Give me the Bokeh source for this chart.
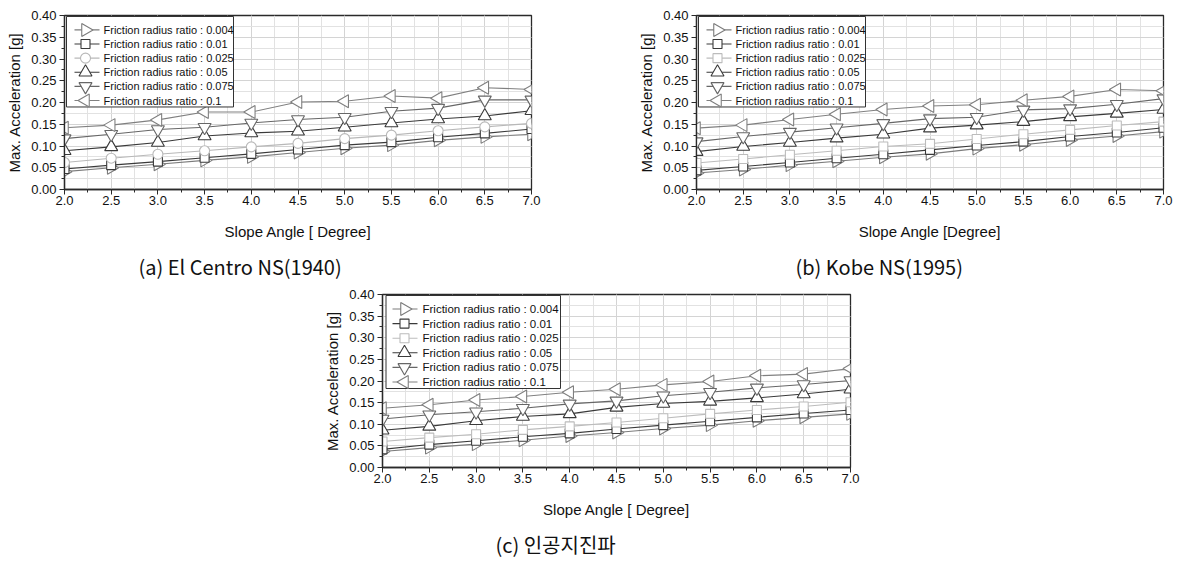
import math
from bokeh.plotting import figure
from bokeh.models import (Title, Range1d, SingleIntervalTicker, NumeralTickFormatter, Spacer)
from bokeh.core.properties import value
from bokeh.layouts import column, row
from bokeh.embed import file_html
from bokeh.resources import INLINE

slope = [2.0, 2.5, 3.0, 3.5, 4.0, 4.5, 5.0, 5.5, 6.0, 6.5, 7.0]
ratios = ["0.004", "0.01", "0.025", "0.05", "0.075", "0.1"]

# (a) El Centro NS(1940)
a_0004 = [0.041, 0.050, 0.058, 0.067, 0.075, 0.085, 0.095, 0.102, 0.113, 0.121, 0.127]
a_001 = [0.047, 0.056, 0.064, 0.073, 0.082, 0.092, 0.102, 0.109, 0.120, 0.129, 0.139]
a_0025 = [0.062, 0.072, 0.081, 0.089, 0.098, 0.106, 0.117, 0.125, 0.135, 0.144, 0.152]
a_005 = [0.089, 0.098, 0.108, 0.123, 0.130, 0.134, 0.143, 0.153, 0.162, 0.169, 0.181]
a_0075 = [0.117, 0.127, 0.138, 0.143, 0.153, 0.161, 0.166, 0.180, 0.187, 0.206, 0.206]
a_01 = [0.142, 0.148, 0.160, 0.178, 0.178, 0.201, 0.203, 0.215, 0.210, 0.234, 0.230]

# (b) Kobe NS(1995)
b_0004 = [0.038, 0.046, 0.056, 0.065, 0.074, 0.082, 0.094, 0.103, 0.114, 0.123, 0.133]
b_001 = [0.044, 0.053, 0.062, 0.072, 0.081, 0.091, 0.101, 0.110, 0.122, 0.131, 0.142]
b_0025 = [0.061, 0.070, 0.080, 0.089, 0.099, 0.105, 0.116, 0.127, 0.137, 0.147, 0.156]
b_005 = [0.087, 0.099, 0.108, 0.118, 0.127, 0.141, 0.148, 0.156, 0.167, 0.175, 0.184]
b_0075 = [0.110, 0.122, 0.132, 0.142, 0.152, 0.163, 0.166, 0.183, 0.186, 0.196, 0.209]
b_01 = [0.141, 0.148, 0.161, 0.173, 0.184, 0.192, 0.195, 0.205, 0.214, 0.230, 0.227]

# (c) artificial earthquake
c_0004 = [0.037, 0.046, 0.054, 0.063, 0.073, 0.081, 0.090, 0.098, 0.108, 0.116, 0.124]
c_001 = [0.042, 0.053, 0.062, 0.071, 0.079, 0.089, 0.098, 0.107, 0.116, 0.125, 0.133]
c_0025 = [0.060, 0.069, 0.077, 0.087, 0.095, 0.104, 0.114, 0.124, 0.133, 0.141, 0.151]
c_005 = [0.086, 0.095, 0.108, 0.118, 0.124, 0.139, 0.148, 0.153, 0.161, 0.170, 0.181]
c_0075 = [0.112, 0.122, 0.129, 0.137, 0.147, 0.154, 0.166, 0.174, 0.184, 0.192, 0.201]
c_01 = [0.137, 0.145, 0.156, 0.164, 0.174, 0.181, 0.191, 0.199, 0.212, 0.216, 0.229]

x_label_a = "Slope Angle [ Degree]"
x_label_b = "Slope Angle [Degree]"
y_label = "Max. Acceleration [g]"
captions = ["(a) El Centro NS(1940)", "(b) Kobe NS(1995)", "(c) 인공지진파"]
legend_labels = ["Friction radius ratio : " + r for r in ratios]

FONT = "Liberation Sans"
CAP_FONT = "Noto Sans CJK KR"
X0, X1, Y0, Y1 = 2.0, 7.0, 0.0, 0.40

# marker style per series: (marker, angle, size, color)
styles_circle = [
    ("triangle", -math.pi / 2, 13, "#7c7c7c"),
    ("square", 0.0, 9, "#3a3a3a"),
    ("circle", 0.0, 10, "#b8b8b8"),
    ("triangle", 0.0, 13, "#3a3a3a"),
    ("inverted_triangle", 0.0, 13, "#676767"),
    ("triangle", math.pi / 2, 13, "#808080"),
]
styles_square = list(styles_circle)
styles_square[2] = ("square", 0.0, 9, "#bcbcbc")


def make_panel(series, styles, xlabel, caption, left_border, width, height,
               top_border, bottom_border, right_border, cap_offset, cap_standoff, leg):
    frame_w = width - left_border - right_border
    frame_h = height - top_border - bottom_border
    dx = (X1 - X0) / frame_w
    dy = (Y1 - Y0) / frame_h

    p = figure(width=width, height=height, output_backend="svg", toolbar_location=None,
               x_range=Range1d(X0, X1), y_range=Range1d(Y0, Y1),
               min_border_left=left_border, min_border_right=right_border,
               min_border_top=top_border, min_border_bottom=bottom_border)
    p.outline_line_color = "#2a2a2a"
    p.outline_line_width = 1.3
    p.background_fill_color = "white"
    p.border_fill_color = "white"

    p.xaxis.ticker = SingleIntervalTicker(interval=0.5, num_minor_ticks=2)
    p.yaxis.ticker = SingleIntervalTicker(interval=0.05, num_minor_ticks=2)
    p.xaxis.formatter = NumeralTickFormatter(format="0.0")
    p.yaxis.formatter = NumeralTickFormatter(format="0.00")
    for ax in (p.xaxis[0], p.yaxis[0]):
        ax.axis_line_color = "#2a2a2a"
        ax.axis_line_width = 1.3
        ax.major_tick_in = 0
        ax.major_tick_out = 5
        ax.minor_tick_in = 0
        ax.minor_tick_out = 3
        ax.major_tick_line_color = "#2a2a2a"
        ax.minor_tick_line_color = "#2a2a2a"
        ax.major_label_text_font = FONT
        ax.major_label_text_font_size = "13px"
        ax.major_label_text_color = "#111111"
        ax.axis_label_text_font = FONT
        ax.axis_label_text_font_size = "15px"
        ax.axis_label_text_font_style = "normal"
        ax.axis_label_text_color = "#111111"
    p.xaxis.axis_label = xlabel
    p.yaxis.axis_label = y_label
    p.xaxis.major_label_standoff = 1
    p.xaxis.axis_label_standoff = 15
    p.yaxis.major_label_standoff = 3
    p.yaxis.axis_label_standoff = 5

    for g in (p.xgrid[0], p.ygrid[0]):
        g.grid_line_color = "#d4d4d4"
        g.grid_line_width = 1
        g.minor_grid_line_color = "#e2e2e2"
        g.minor_grid_line_width = 1

    for ys, (mk, ang, sz, col) in zip(series, styles):
        p.line(slope, ys, line_color=col, line_width=1.1)
        p.scatter(slope, ys, marker=mk, angle=ang, size=sz,
                  line_color=col, fill_color="white", line_width=1.1)

    # legend box drawn from pixel offsets inside the frame (top-left)
    bl, br, bt, bb, row0, rstep, lx0, lx1, mx, tx, fs = leg
    p.quad(left=[X0 + bl * dx], right=[X0 + br * dx],
           top=[Y1 - bt * dy], bottom=[Y1 - bb * dy],
           fill_color="white", line_color="#333333", line_width=1)
    for i, ((mk, ang, sz, col), lab) in enumerate(zip(styles, legend_labels)):
        yy = Y1 - (row0 + i * rstep) * dy
        p.segment(x0=[X0 + lx0 * dx], y0=[yy], x1=[X0 + lx1 * dx], y1=[yy],
                  line_color=col, line_width=1.1)
        p.scatter([X0 + mx * dx], [yy], marker=mk, angle=ang, size=sz,
                  line_color=col, fill_color="white", line_width=1.1)
        p.text([X0 + tx * dx], [yy], text=[lab], text_font=value(FONT),
               text_font_size=fs, text_baseline="middle", text_align="left",
               text_color="#111111")

    t = Title(text=caption, align="left", offset=cap_offset, text_font=CAP_FONT,
              text_font_size="20px", text_font_style="normal", text_color="#111111",
              standoff=cap_standoff)
    p.add_layout(t, "below")
    return p


leg_ab = (2, 169, 1, 92, 14.5, 14.2, 10, 35, 21, 39, "11px")
leg_c = (3.5, 178, 1, 94, 14.5, 14.6, 10, 35, 22, 40, "11.5px")

pa = make_panel([a_0004, a_001, a_0025, a_005, a_0075, a_01], styles_circle, x_label_a,
                captions[0], 64, 600, 288, 14, 99, 69, 74, 15, leg_ab)
pb = make_panel([b_0004, b_001, b_0025, b_005, b_0075, b_01], styles_square, x_label_b,
                captions[1], 96, 576, 288, 15, 98, 13, 99, 15, leg_ab)
pc = make_panel([c_0004, c_001, c_0025, c_005, c_0075, c_01], styles_square, x_label_a,
                captions[2], 64, 600, 278, 6, 99, 68, 113, 15, leg_c)

layout = column(row(pa, pb), row(Spacer(width=318, height=278), pc))

open("out.html", "w").write(file_html(layout, INLINE))
